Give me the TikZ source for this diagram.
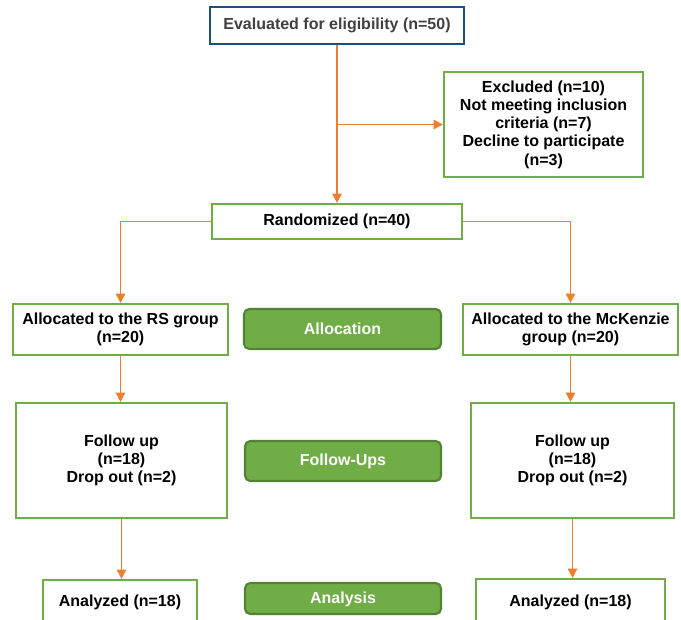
\documentclass[tikz,border=0pt]{standalone}
\usepackage{fontspec}
\setmainfont{Liberation Sans}
\usetikzlibrary{arrows.meta,calc}
\definecolor{cOrange}{HTML}{ED7D31}
\definecolor{cGreen}{HTML}{70AD47}
\definecolor{cDGreen}{HTML}{548235}
\definecolor{cNavy}{HTML}{1F4E79}
\definecolor{cGray}{HTML}{404040}
\newcommand\pxu{0.75pt}
\begin{document}
\begin{tikzpicture}[x=0.75pt,y=-0.75pt,
  txt/.style={font=\fontsize{12}{13.7}\selectfont\bfseries, align=center, inner sep=2pt},
  box/.style={txt, draw=cGreen, line width=1.6pt, fill=white},
  topbox/.style={txt, draw=cNavy, line width=2pt, fill=white, text=cGray},
  btn/.style={txt, draw=cDGreen, line width=1.6pt, fill=cGreen, rounded corners=4pt, text=white},
  arr/.style={draw=cOrange, line width=1.2pt, -{Triangle[length=7pt,width=7pt]}},
  sz/.style 2 args={minimum width=#1*\pxu, minimum height=#2*\pxu},
]
\useasboundingbox (0,0) rectangle (681,619);
\fill[white] (0,0) rectangle (681,619);

\node[topbox, sz={254}{37}] (eval) at (337,25.5) {Evaluated for eligibility (n=50)};
\node[box, sz={199}{105}] (excl) at (543.5,124.5) {Excluded (n=10)\\Not meeting inclusion\\criteria (n=7)\\Decline to participate\\(n=3)};
\node[box, sz={250}{35}] (rand) at (337,221.5) {Randomized (n=40)};
\node[box, sz={215}{51}] (alloc1) at (120.5,329.5) {Allocated to the RS group\\(n=20)};
\node[box, sz={215}{51}] (alloc2) at (570.5,329.5) {Allocated to the McKenzie\\group (n=20)};
\node[box, sz={211}{115}] (follow1) at (121.5,460.5) {Follow up\\(n=18)\\Drop out (n=2)};
\node[box, sz={203}{115}] (follow2) at (572.5,460.5) {Follow up\\(n=18)\\Drop out (n=2)};
\node[box, sz={154}{44}] (ana1) at (120,602) {Analyzed (n=18)};
\node[box, sz={189}{46}] (ana2) at (570.5,602) {Analyzed (n=18)};
\node[btn, sz={197}{40}] (b1) at (342.5,329) {Allocation};
\node[btn, sz={196}{40}] (b2) at (343,461) {Follow-Ups};
\node[btn, sz={196}{31}, text depth=0.5pt] (b3) at (343,598.5) {Analysis};

\draw[arr] (eval.south) -- (rand.north);
\coordinate (br) at (eval.south |- excl.west);
\draw[arr] (br) -- (excl.west);
\draw[arr] (rand.west) -| (alloc1.north);
\draw[arr] (rand.east) -| (alloc2.north);
\draw[arr] (alloc1.south) -- (alloc1.south |- follow1.north);
\draw[arr] (alloc2.south) -- (alloc2.south |- follow2.north);
\draw[arr] (follow1.south) -- (follow1.south |- ana1.north);
\draw[arr] (follow2.south) -- (follow2.south |- ana2.north);
\end{tikzpicture}
\end{document}
